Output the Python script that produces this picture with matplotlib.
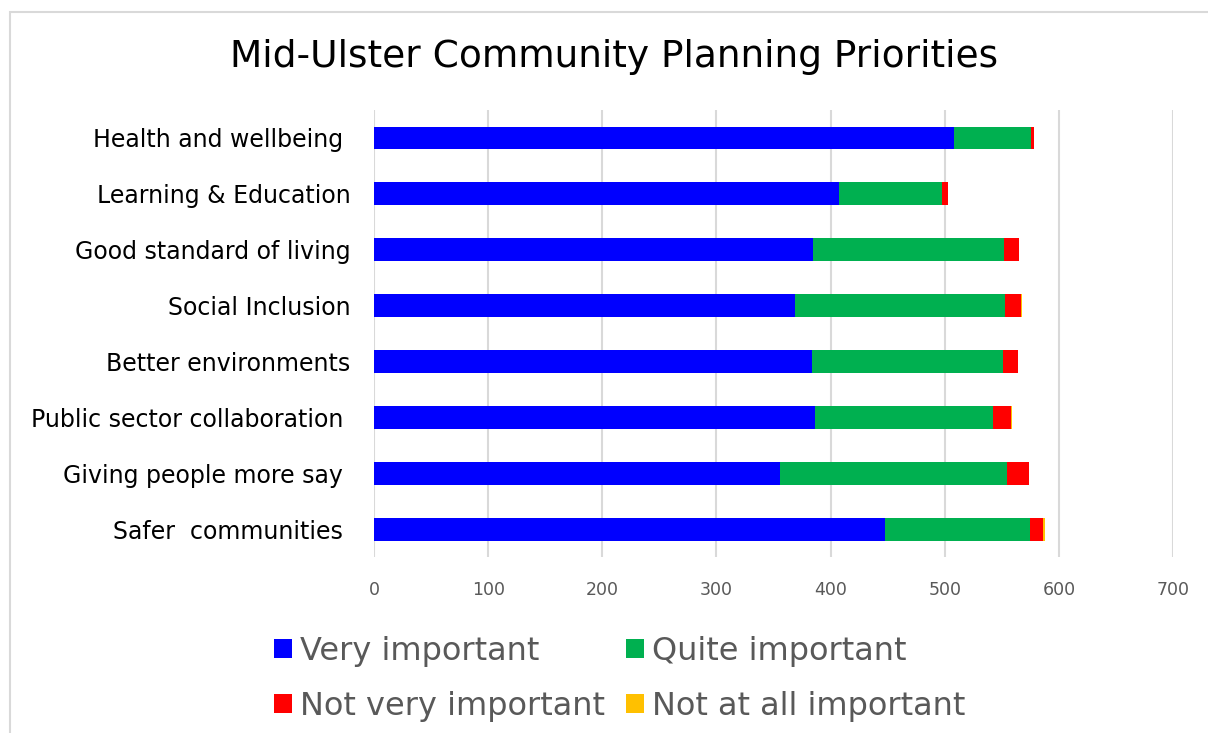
import matplotlib.pyplot as plt
import numpy as np
from matplotlib.patches import Rectangle

categories = ['Health and wellbeing ', 'Learning & Education', 'Good standard of living',
              'Social Inclusion', 'Better environments', 'Public sector collaboration ',
              'Giving people more say ', 'Safer  communities ']
very = [508, 407, 385, 369, 384, 386, 356, 448]
quite = [68, 91, 167, 184, 167, 156, 199, 127]
not_very = [2, 5, 13, 14, 13, 16, 19, 11]
not_at_all = [0, 0, 0, 1, 0, 1, 0, 2]

series = [('Very important', very, '#0000ff'),
          ('Quite important', quite, '#00b050'),
          ('Not very important', not_very, '#ff0000'),
          ('Not at all important', not_at_all, '#ffc000')]

fig = plt.figure(figsize=(12.08, 7.33), dpi=100)
ax = fig.add_axes([0.3096, 0.2401, 0.6614, 0.6098])

y = np.arange(len(categories))
left = np.zeros(len(categories))
bars = []
for name, vals, col in series:
    b = ax.barh(y, vals, left=left, height=0.41, color=col, label=name, zorder=3)
    bars.append(b)
    left += np.array(vals)

ax.set_ylim(len(categories) - 0.5, -0.5)
ax.set_xlim(0, 700)
ax.set_xticks(range(0, 701, 100))
ax.set_yticks(y)
ax.set_yticklabels(categories, fontsize=17, color='black')
ax.tick_params(axis='x', length=0, pad=17, labelsize=12.5, labelcolor='#595959')
ax.tick_params(axis='y', length=0, pad=17)
ax.grid(axis='x', color='#d9d9d9', linewidth=1.5, zorder=0)
for s in ax.spines.values():
    s.set_visible(False)

fig.text(0.508, 1 - 57 / 733, 'Mid-Ulster Community Planning Priorities',
         fontsize=27, ha='center', va='center')

# chart border
fig.patches.append(Rectangle((10 / 1208, -0.01), 1.02, 1 - 12 / 733 + 0.01,
                             transform=fig.transFigure, fill=False,
                             edgecolor='#d9d9d9', linewidth=1.5))

# legend filled row by row
order = [0, 2, 1, 3]
leg = fig.legend([bars[i] for i in order], [series[i][0] for i in order],
                 loc='upper left', bbox_to_anchor=(274 / 1208, 1 - 636 / 733), ncol=2,
                 frameon=False, fontsize=23, handlelength=0.56, handleheight=0.56,
                 handletextpad=0.25, columnspacing=0.65, labelspacing=0.74,
                 borderpad=0, borderaxespad=0)
for t in leg.get_texts():
    t.set_color('#595959')

fig.savefig('out.png', dpi=100)
